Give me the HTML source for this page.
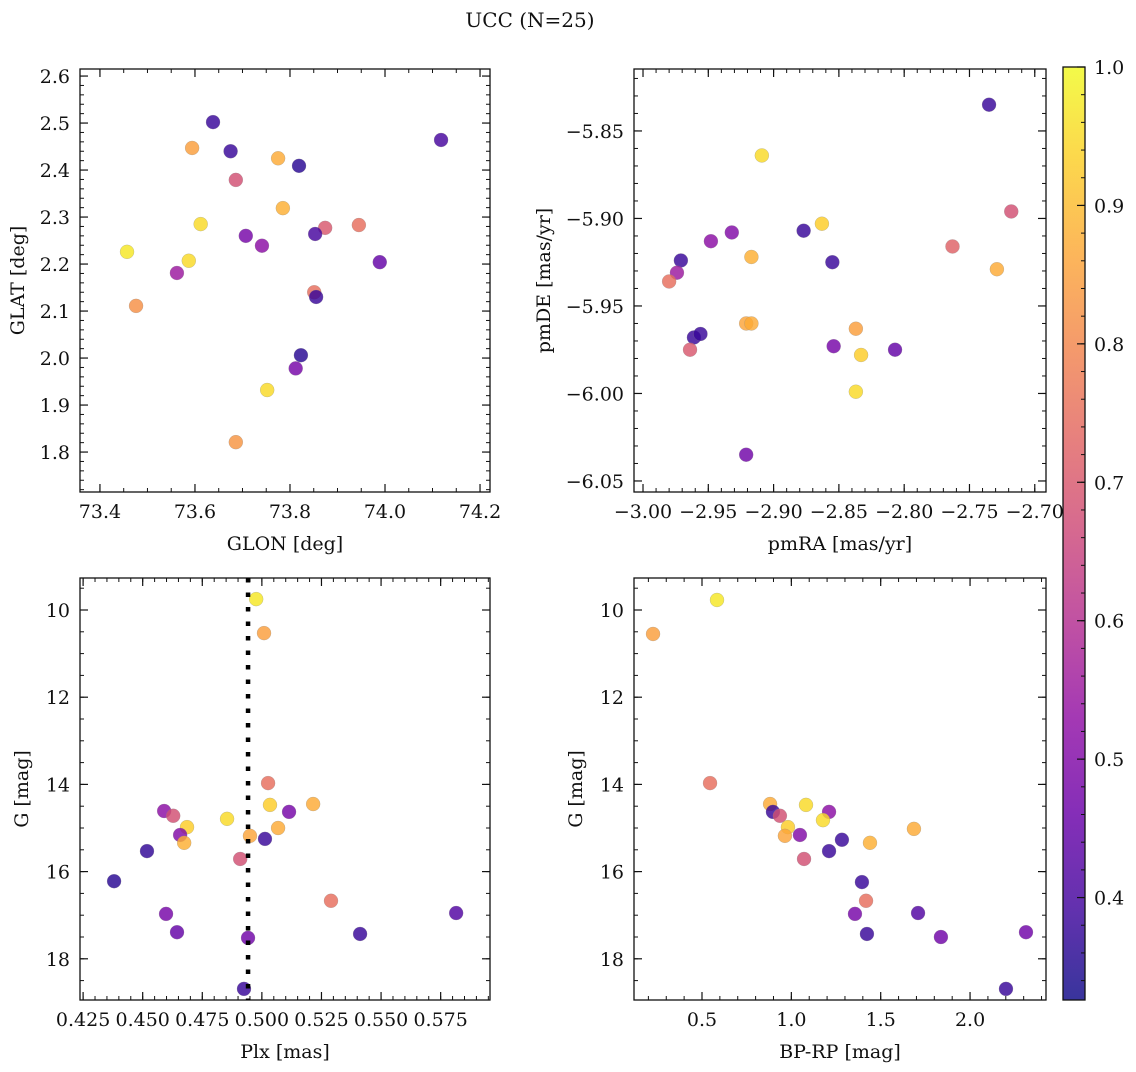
<!DOCTYPE html>
<html><head><meta charset="utf-8"><style>
body{margin:0;background:#fff;}
svg text{font-family:"DejaVu Serif","Liberation Serif",serif;fill:#111;}
</style></head><body>
<svg id="fig" width="1136" height="1067" xmlns="http://www.w3.org/2000/svg">
<defs><linearGradient id="cbg" x1="0" y1="1" x2="0" y2="0">
<stop offset="0" stop-color="#0d0887"/><stop offset="0.1" stop-color="#41049d"/><stop offset="0.2" stop-color="#6a00a8"/><stop offset="0.3" stop-color="#8f0da4"/><stop offset="0.4" stop-color="#b12a90"/><stop offset="0.5" stop-color="#cc4778"/><stop offset="0.6" stop-color="#e16462"/><stop offset="0.7" stop-color="#f2844b"/><stop offset="0.8" stop-color="#fca636"/><stop offset="0.9" stop-color="#fcce25"/><stop offset="1" stop-color="#f0f921"/>
</linearGradient></defs>
<text x="530" y="27" text-anchor="middle" font-size="20">UCC (N=25)</text>
</svg>
<script>
// Panel 1: GLON vs GLAT
const glon=[73.638,73.594,73.675,73.775,73.686,73.819,73.785,73.612,73.707,73.741,73.874,73.853,73.945,73.457,73.587,73.562,73.989,73.476,73.851,73.855,73.823,73.812,73.752,73.686,74.118];
const glat=[2.502,2.447,2.440,2.425,2.379,2.409,2.319,2.285,2.260,2.239,2.277,2.264,2.283,2.226,2.207,2.181,2.204,2.111,2.140,2.130,2.006,1.978,1.932,1.821,2.464];
const prob1=[0.38,0.85,0.38,0.87,0.68,0.36,0.88,0.95,0.48,0.52,0.70,0.40,0.75,0.97,0.95,0.55,0.45,0.82,0.75,0.38,0.36,0.48,0.95,0.83,0.40];
// Panel 2: pmRA vs pmDE
const pmra=[-2.735,-2.909,-2.863,-2.718,-2.948,-2.932,-2.877,-2.971,-2.917,-2.855,-2.763,-2.729,-2.974,-2.980,-2.961,-2.956,-2.964,-2.921,-2.917,-2.837,-2.854,-2.833,-2.807,-2.837,-2.921];
const pmde=[-5.835,-5.864,-5.903,-5.896,-5.913,-5.908,-5.907,-5.924,-5.922,-5.925,-5.916,-5.929,-5.931,-5.936,-5.968,-5.966,-5.975,-5.960,-5.960,-5.963,-5.973,-5.978,-5.975,-5.999,-6.035];
const prob2=[0.38,0.95,0.93,0.68,0.52,0.50,0.38,0.38,0.88,0.38,0.72,0.87,0.55,0.75,0.38,0.38,0.70,0.86,0.87,0.85,0.48,0.93,0.45,0.95,0.47];
// Panel 3: Plx vs G
const plx=[0.4976,0.5009,0.5026,0.5034,0.5215,0.4590,0.4628,0.5114,0.4686,0.4854,0.5068,0.4657,0.4950,0.4674,0.5013,0.4518,0.4909,0.4380,0.5290,0.4598,0.5815,0.4644,0.5412,0.4942,0.4925];
const gmag=[9.75,10.53,13.97,14.47,14.45,14.61,14.72,14.63,14.98,14.79,15.00,15.16,15.18,15.34,15.25,15.53,15.71,16.22,16.67,16.97,16.95,17.39,17.43,17.52,18.69];
const prob3=[0.97,0.85,0.75,0.93,0.87,0.52,0.68,0.48,0.93,0.95,0.87,0.50,0.86,0.88,0.38,0.37,0.68,0.36,0.75,0.48,0.42,0.45,0.38,0.47,0.38];
const plxRef=0.4942;
// Panel 4: BP-RP vs G
const bprp=[0.584,0.226,0.545,0.881,1.082,0.897,0.936,1.211,0.981,1.177,1.686,1.048,0.964,1.283,1.440,1.211,1.071,1.395,1.418,1.356,1.709,2.313,1.423,1.837,2.201];
const gmag4=[9.77,10.55,13.97,14.45,14.47,14.63,14.72,14.63,14.98,14.82,15.02,15.16,15.18,15.27,15.34,15.53,15.71,16.24,16.67,16.97,16.95,17.39,17.43,17.50,18.69];
const prob4=[0.97,0.85,0.75,0.87,0.95,0.38,0.68,0.52,0.93,0.95,0.87,0.50,0.86,0.38,0.88,0.38,0.68,0.38,0.75,0.48,0.42,0.47,0.38,0.47,0.38];
const cbTicks=[0.4,0.5,0.6,0.7,0.8,0.9,1.0];

const NS='http://www.w3.org/2000/svg';
const svg=document.getElementById('fig');
const FS=19;
function mk(tag,attrs,parent){const e=document.createElementNS(NS,tag);for(const k in attrs)e.setAttribute(k,attrs[k]);(parent||svg).appendChild(e);return e;}
const stops=[[13,8,135],[65,4,157],[106,0,168],[143,13,164],[177,42,144],[204,71,120],[225,100,98],[242,132,75],[252,166,54],[252,206,37],[240,249,33]];
const VMIN=0.326,VMAX=1.0;
function plasma(v){let t=(v-VMIN)/(VMAX-VMIN);t=Math.max(0,Math.min(1,t))*10;const i=Math.min(9,Math.floor(t)),f=t-i;const a=stops[i],b=stops[i+1];return 'rgb('+a.map((c,k)=>Math.round(c+(b[k]-c)*f)).join(',')+')';}

function panel(name,box,xd,yd,xt,xminor,yt,yminor,xfmt,yfmt,xlabel,ylabel,xs,ys,ps,ylx){
  const [L,T,R,B]=box;
  const g=mk('g',{});
  
  
  const sx=v=>L+(v-xd[0])/(xd[1]-xd[0])*(R-L);
  const sy=v=>T+(v-yd[0])/(yd[1]-yd[0])*(B-T);
  const pts=mk('g',{},g);
  
  
  xs.forEach((x,i)=>{
    const c=mk('circle',{cx:sx(x),cy:sy(ys[i]),r:7,fill:plasma(ps[i]),'fill-opacity':0.82,stroke:'#888','stroke-width':0.4,'stroke-opacity':0.6},pts);
    
    
  });
  const fr=mk('rect',{x:L,y:T,width:R-L,height:B-T,fill:'none',stroke:'#111','stroke-width':1.3},g);
  
  
  const lo=Math.min(xd[0],xd[1]),hi=Math.max(xd[0],xd[1]);
  for(let k=Math.ceil(lo/xminor-1e-6);k*xminor<=hi+1e-9;k++){const v=k*xminor,x=sx(v);mk('line',{x1:x,x2:x,y1:B,y2:B-4,stroke:'#111'},g);mk('line',{x1:x,x2:x,y1:T,y2:T+4,stroke:'#111'},g);}
  const ylo=Math.min(yd[0],yd[1]),yhi=Math.max(yd[0],yd[1]);
  for(let k=Math.ceil(ylo/yminor-1e-6);k*yminor<=yhi+1e-9;k++){const v=k*yminor,y=sy(v);mk('line',{x1:L,x2:L+4,y1:y,y2:y,stroke:'#111'},g);mk('line',{x1:R,x2:R-4,y1:y,y2:y,stroke:'#111'},g);}
  xt.forEach(v=>{const x=sx(v);mk('line',{x1:x,x2:x,y1:B,y2:B-8,stroke:'#111','stroke-width':1.2},g);mk('line',{x1:x,x2:x,y1:T,y2:T+8,stroke:'#111','stroke-width':1.2},g);
    const t=mk('text',{x:x,y:B+26,'text-anchor':'middle','font-size':FS},g);t.textContent=xfmt(v).replace('-','\u2212');
    
    });
  yt.forEach(v=>{const y=sy(v);mk('line',{x1:L,x2:L+8,y1:y,y2:y,stroke:'#111','stroke-width':1.2},g);mk('line',{x1:R,x2:R-8,y1:y,y2:y,stroke:'#111','stroke-width':1.2},g);
    const t=mk('text',{x:L-10,y:y+7,'text-anchor':'end','font-size':FS},g);t.textContent=yfmt(v).replace('-','\u2212');
    
    });
  const xl=mk('text',{x:(L+R)/2,y:B+58,'text-anchor':'middle','font-size':FS},g);xl.textContent=xlabel;
  
  
  const yl=mk('text',{x:ylx,y:(T+B)/2,'text-anchor':'middle','font-size':FS,transform:'rotate(-90 '+ylx+' '+((T+B)/2)+')'},g);yl.textContent=ylabel;
  
  
  return {sx,sy,g};
}
const f1=v=>v.toFixed(1),f2=v=>v.toFixed(2),f3=v=>v.toFixed(3),f0=v=>v.toFixed(0);
panel('panel-glon-glat',[80,69,490,492],[73.358,74.221],[2.615,1.715],[73.4,73.6,73.8,74.0,74.2],0.05,[1.8,1.9,2.0,2.1,2.2,2.3,2.4,2.5,2.6],0.02,f1,f1,'GLON [deg]','GLAT [deg]',glon,glat,prob1,24);
panel('panel-pm',[634,69,1046,492],[-3.0069,-2.6914],[-5.8146,-6.0563],[-3.0,-2.95,-2.9,-2.85,-2.8,-2.75,-2.7],0.01,[-6.05,-6.0,-5.95,-5.9,-5.85],0.01,f2,f2,'pmRA [mas/yr]','pmDE [mas/yr]',pmra,pmde,prob2,550);
const p3=panel('panel-plx-g',[80,578,490,1000],[0.4237,0.5957],[9.266,18.945],[0.425,0.45,0.475,0.5,0.525,0.55,0.575],0.005,[10,12,14,16,18],0.5,f3,f0,'Plx [mas]','G [mag]',plx,gmag,prob3,28);
const ref=mk('line',{x1:p3.sx(plxRef),x2:p3.sx(plxRef),y1:578,y2:1000,stroke:'#000','stroke-width':4.5,'stroke-dasharray':'4.5 10'},p3.g);


panel('panel-cmd',[634,578,1046,1000],[0.1195,2.425],[9.266,18.945],[0.5,1.0,1.5,2.0],0.1,[10,12,14,16,18],0.5,f1,f0,'BP-RP [mag]','G [mag]',bprp,gmag4,prob4,582);

// colorbar
const cb=mk('g',{});


const CT=67,CB=1000,CL=1063,CR=1085;
const cy=v=>CB-(v-VMIN)/(VMAX-VMIN)*(CB-CT);
mk('rect',{x:CL,y:CT,width:CR-CL,height:CB-CT,fill:'url(#cbg)','fill-opacity':0.82},cb);
mk('rect',{x:CL,y:CT,width:CR-CL,height:CB-CT,fill:'none',stroke:'#111','stroke-width':1.3},cb);
for(let k=17;k<=50;k++){const y=cy(k*0.02);mk('line',{x1:CR,x2:CR-4,y1:y,y2:y,stroke:'#111'},cb);}
cbTicks.forEach(v=>{const y=cy(v);mk('line',{x1:CR,x2:CR-8,y1:y,y2:y,stroke:'#111','stroke-width':1.2},cb);
  const t=mk('text',{x:CR+9,y:y+7,'font-size':FS},cb);t.textContent=v.toFixed(1);
  
  });
</script>
</body></html>
